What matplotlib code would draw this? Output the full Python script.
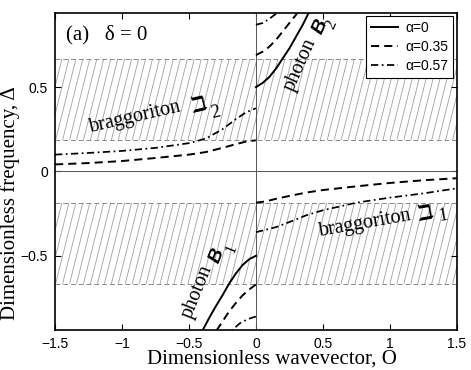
import numpy as np
import matplotlib
matplotlib.use("Agg")
import matplotlib.pyplot as plt
from matplotlib.patches import Rectangle

# ---------------- data ----------------
band_lo = [0.185, 0.667]          # upper stop band edges (mirrored for lower)

# photon branches (upper right / lower left)
q_ph_b2_a0 = [0, 0.05, 0.1, 0.15, 0.2, 0.25, 0.3, 0.35, 0.4]
d_ph_b2_a0 = [0.5, 0.525, 0.56, 0.61, 0.67, 0.73, 0.80, 0.87, 0.95]
q_ph_b2_a1 = [0, 0.05, 0.1, 0.15, 0.2, 0.25, 0.3, 0.32]
d_ph_b2_a1 = [0.69, 0.71, 0.74, 0.78, 0.83, 0.88, 0.93, 0.95]
q_ph_b2_a2 = [0, 0.05, 0.1, 0.15, 0.2]
d_ph_b2_a2 = [0.87, 0.88, 0.905, 0.935, 0.965]

q_ph_b1_a0 = [0, -0.05, -0.1, -0.15, -0.2, -0.25, -0.3, -0.35, -0.4]
d_ph_b1_a0 = [-0.5, -0.52, -0.555, -0.605, -0.665, -0.735, -0.80, -0.87, -0.945]
q_ph_b1_a1 = [0, -0.05, -0.1, -0.15, -0.2, -0.25, -0.3]
d_ph_b1_a1 = [-0.67, -0.70, -0.735, -0.78, -0.83, -0.89, -0.95]
q_ph_b1_a2 = [0, -0.06, -0.12, -0.19]
d_ph_b1_a2 = [-0.86, -0.875, -0.90, -0.95]

# braggoriton branches
q_br2 = [-1.5, -1.25, -1.0, -0.75, -0.5, -0.375, -0.25, -0.15, -0.075, 0]
d_br2_a1 = [0.042, 0.05, 0.062, 0.08, 0.10, 0.115, 0.14, 0.162, 0.177, 0.185]
d_br2_a2 = [0.10, 0.11, 0.122, 0.14, 0.168, 0.195, 0.25, 0.31, 0.35, 0.375]

q_br1 = [0, 0.075, 0.15, 0.25, 0.375, 0.5, 0.75, 1.0, 1.25, 1.5]
d_br1_a1 = [-0.185, -0.177, -0.162, -0.145, -0.125, -0.11, -0.088, -0.068, -0.052, -0.04]
d_br1_a2 = [-0.36, -0.345, -0.33, -0.30, -0.26, -0.23, -0.185, -0.155, -0.13, -0.10]

legend_labels = ["\u03b1=0", "\u03b1=0.35", "\u03b1=0.57"]
xticks = [-1.5, -1, -0.5, 0, 0.5, 1, 1.5]
yticks = [-0.5, 0, 0.5]

# ---------------- figure ----------------
fig = plt.figure(figsize=(4.71, 3.70), dpi=100)
ax = fig.add_axes([0.1168, 0.108, 0.853, 0.857])
XL = (-1.5, 1.5)
YL = (-0.94, 0.94)
ax.set_xlim(*XL)
ax.set_ylim(*YL)

# hatched bands
for lo, hi in [(band_lo[0], band_lo[1]), (-band_lo[1], -band_lo[0])]:
    rect = Rectangle((XL[0], lo), XL[1] - XL[0], hi - lo, fill=False,
                     edgecolor='none', transform=ax.transData)
    ax.add_patch(rect)
    shift = 0.315 * (hi - lo)
    for x0 in np.arange(XL[0] - shift, XL[1] + 0.06, 0.052):
        ln, = ax.plot([x0, x0 + shift], [lo, hi], color='#a0a0a0', lw=0.6,
                      zorder=1, solid_capstyle='butt')
        ln.set_clip_path(rect)
    for yy in (lo, hi):
        ax.axhline(yy, color='#8a8a8a', lw=0.7, ls=(0, (5, 3)), zorder=1.5)

ax.axhline(0, color='#555555', lw=0.7, zorder=1.6)
ax.axvline(0, color='#555555', lw=0.7, zorder=1.6)

lw = 1.4
ls_a0 = '-'
ls_a1 = (0, (4.2, 2.6))
ls_a2 = (0, (4.2, 2.0, 1.0, 2.0))

l0, = ax.plot(q_ph_b2_a0, d_ph_b2_a0, color='k', lw=lw, ls=ls_a0, zorder=3)
ax.plot(q_ph_b1_a0, d_ph_b1_a0, color='k', lw=lw, ls=ls_a0, zorder=3)
l1, = ax.plot(q_ph_b2_a1, d_ph_b2_a1, color='k', lw=lw, ls=ls_a1, zorder=3)
ax.plot(q_ph_b1_a1, d_ph_b1_a1, color='k', lw=lw, ls=ls_a1, zorder=3)
ax.plot(q_br2, d_br2_a1, color='k', lw=lw, ls=ls_a1, zorder=3)
ax.plot(q_br1, d_br1_a1, color='k', lw=lw, ls=ls_a1, zorder=3)
lw2 = 1.25
l2, = ax.plot(q_ph_b2_a2, d_ph_b2_a2, color='k', lw=lw2, ls=ls_a2, zorder=3)
ax.plot(q_ph_b1_a2, d_ph_b1_a2, color='k', lw=lw2, ls=ls_a2, zorder=3)
ax.plot(q_br2, d_br2_a2, color='k', lw=lw2, ls=ls_a2, zorder=3)
ax.plot(q_br1, d_br1_a2, color='k', lw=lw2, ls=ls_a2, zorder=3)

leg = ax.legend([l0, l1, l2], legend_labels, loc='upper right',
                prop={'family': 'Liberation Sans', 'size': 10},
                frameon=True, fancybox=False, framealpha=1, edgecolor='k',
                borderpad=0.35, labelspacing=0.35, handlelength=2.0,
                handletextpad=0.5, borderaxespad=0.25)
leg.get_frame().set_linewidth(0.8)

# ticks
ax.set_xticks(xticks)
ax.set_yticks(yticks)
ax.set_xticklabels(["\u22121.5", "\u22121", "\u22120.5", "0", "0.5", "1", "1.5"])
ax.set_yticklabels(["\u22120.5", "0", "0.5"])
ax.tick_params(direction='in', top=True, right=True, length=4, width=0.8,
               labelsize=10, pad=5)
for lab in ax.get_xticklabels() + ax.get_yticklabels():
    lab.set_fontfamily('Liberation Sans')
for sp in ax.spines.values():
    sp.set_linewidth(1.2)

serif = 'Liberation Serif'
ax.set_xlabel("Dimensionless wavevector, O", family=serif, fontsize=15)
ax.xaxis.set_label_coords(0.54, -0.062)
ax.set_ylabel("Dimensionless frequency, \u0394", family=serif, fontsize=15)
ax.yaxis.set_label_coords(-0.087, 0.40)

ax.text(0.028, 0.93, "(a)   \u03b4 = 0", transform=ax.transAxes, family=serif,
        fontsize=15, va='center', ha='left')

# annotations
ax.text(-0.90, 0.32, "braggoriton", family=serif, fontsize=14.5, rotation=13,
        ha='center', va='center', rotation_mode='anchor')
ax.text(-0.42, 0.39, "\u2136", family='DejaVu Sans', fontsize=16, fontweight='bold',
        rotation=13, ha='center', va='center', rotation_mode='anchor')
ax.text(-0.30, 0.35, "2", family=serif, fontsize=13, rotation=13,
        ha='center', va='center', rotation_mode='anchor')

ax.text(0.82, -0.31, "braggoriton", family=serif, fontsize=14.5, rotation=10,
        ha='center', va='center', rotation_mode='anchor')
ax.text(1.27, -0.25, "\u2136", family='DejaVu Sans', fontsize=16, fontweight='bold',
        rotation=10, ha='center', va='center', rotation_mode='anchor')
ax.text(1.40, -0.265, "1", family=serif, fontsize=13, rotation=10,
        ha='center', va='center', rotation_mode='anchor')

ax.text(0.33, 0.635, "photon", family=serif, fontsize=14.5, rotation=66,
        ha='center', va='center', rotation_mode='anchor')
ax.text(0.48, 0.86, "B", family='Liberation Sans', fontsize=14, fontweight='bold',
        style='italic', rotation=66, ha='center', va='center', rotation_mode='anchor')
ax.text(0.565, 0.87, "2", family=serif, fontsize=12, rotation=66,
        ha='center', va='center', rotation_mode='anchor')

ax.text(-0.44, -0.71, "photon", family=serif, fontsize=14.5, rotation=68,
        ha='center', va='center', rotation_mode='anchor')
ax.text(-0.29, -0.50, "B", family='Liberation Sans', fontsize=14, fontweight='bold',
        style='italic', rotation=68, ha='center', va='center', rotation_mode='anchor')
ax.text(-0.18, -0.46, "1", family=serif, fontsize=12, rotation=68,
        ha='center', va='center', rotation_mode='anchor')

fig.savefig("out.png", dpi=100)
